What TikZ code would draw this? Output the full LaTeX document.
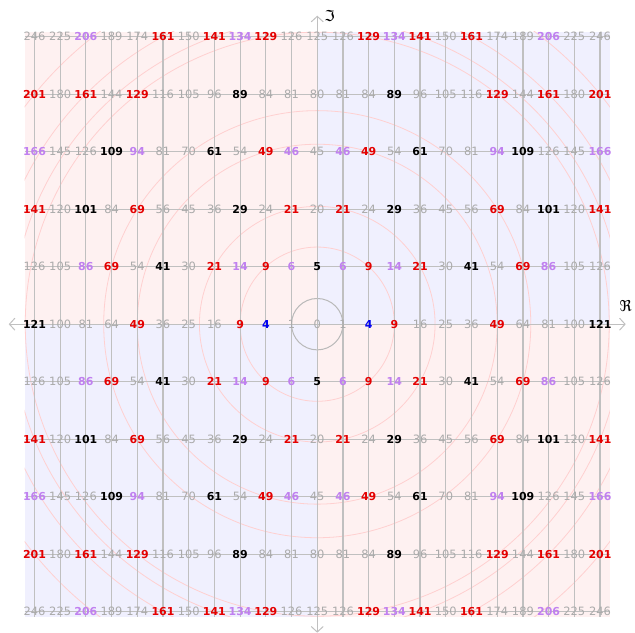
\documentclass[tikz,border=0pt]{standalone}
\usepackage{fontspec}
\newfontfamily\numfont{DejaVu Sans}
\usetikzlibrary{arrows.meta}
\definecolor{pinkbg}{RGB}{254,241,241}
\definecolor{lavbg}{RGB}{240,240,254}
\definecolor{circc}{RGB}{255,208,208}
\definecolor{gridc}{RGB}{192,192,192}
\definecolor{unitc}{RGB}{185,185,185}
\definecolor{grayt}{RGB}{170,170,170}
\definecolor{redt}{RGB}{228,0,0}
\definecolor{purt}{RGB}{192,128,240}
\definecolor{bluet}{RGB}{0,0,240}
\def\defnormcol#1#2{\expandafter\gdef\csname normcol#1\endcsname{#2}}
\foreach \n in {9,21,49,69,129,141,161,201}{\defnormcol{\n}{numr}}
\foreach \n in {6,14,46,86,94,134,166,206}{\defnormcol{\n}{nump}}
\foreach \n in {5,29,41,61,89,101,109,121}{\defnormcol{\n}{numk}}
\defnormcol{4}{numb}
\def\sqfive{2.2360680}
\def\halfsq{11.38}
\begin{document}
\begin{tikzpicture}[x=25.71bp,y=25.71bp,
  num/.style={inner sep=0pt, font=\numfont\fontsize{11.5}{12}\selectfont},
  numbold/.style={inner sep=0pt, font=\numfont\bfseries\fontsize{11}{12}\selectfont},
  numg/.style={num, text=grayt},
  numr/.style={numbold, text=redt},
  nump/.style={numbold, text=purt},
  numk/.style={numbold, text=black},
  numb/.style={numbold, text=bluet},
  gridline/.style={draw=gridc, line width=1.2bp},
  normcirc/.style={draw=circc, line width=0.8bp},
  unitcirc/.style={draw=unitc, line width=1bp},
  axisline/.style={draw=gridc, line width=1bp, {Straight Barb[length=5.5bp,width=12bp]}-{Straight Barb[length=5.5bp,width=12bp]}},
  axlabel/.style={inner sep=0pt, font=\numfont\fontsize{15}{15}\selectfont}
]
\useasboundingbox (-12.34,-12.01) rectangle (12.36,12.61);
% quadrant shading
\fill[pinkbg] (-\halfsq,0) rectangle (0,\halfsq);
\fill[pinkbg] (0,-\halfsq) rectangle (\halfsq,0);
\fill[lavbg] (0,0) rectangle (\halfsq,\halfsq);
\fill[lavbg] (-\halfsq,-\halfsq) rectangle (0,0);
% norm circles
\begin{scope}
  \clip (-\halfsq,-\halfsq) rectangle (\halfsq,\halfsq);
  \foreach \n in {9,21,49,69,129,141,161,201}{
    \draw[normcirc] (0,0) circle ({sqrt(\n)});
  }
\end{scope}
% grid
\foreach \a in {-11,...,11}{
  \draw[gridline] (\a,-\halfsq) -- (\a,\halfsq);
}
\foreach \b in {-5,...,5}{
  \draw[gridline] (-\halfsq,{\b*\sqfive}) -- (\halfsq,{\b*\sqfive});
}
% unit circle
\draw[unitcirc] (0,0) circle (1);
% axes
\coordinate (xl) at (-12,0);
\coordinate (xr) at (12,0);
\coordinate (yb) at (0,-12);
\coordinate (yt) at (0,12);
\draw[axisline] (xl) -- (xr);
\draw[axisline] (yb) -- (yt);
\node[axlabel, anchor=south, yshift=12bp] (relab) at (xr) {ℜ};
\node[axlabel, anchor=west, xshift=7bp] (imlab) at (yt) {ℑ};
% norms
\foreach \b in {-5,...,5}{
  \foreach \a in {-11,...,11}{
    \pgfmathtruncatemacro\N{\a*\a+5*\b*\b}
    \ifcsname normcol\N\endcsname
      \edef\sty{\csname normcol\N\endcsname}
    \else
      \def\sty{numg}
    \fi
    \node[\sty] (p\a x\b) at (\a,{\b*\sqfive}) {\N};
  }
}
\end{tikzpicture}
\end{document}
